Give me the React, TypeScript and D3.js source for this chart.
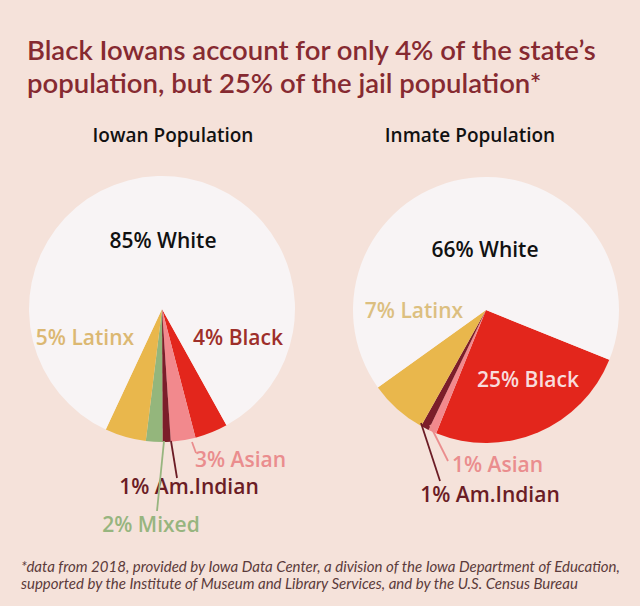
import React from "react";
import * as d3 from "d3";

// Iowa population shares vs. jail population shares (percent)
const groups = ["Black", "Asian", "Am.Indian", "Mixed", "Latinx", "White"];
const iowanShare = [4, 3, 1, 2, 5, 85];
const inmateShare = [25, 1, 1, 0, 7, 66];

const groupColor: Record<string, string> = {
  Black: "#e3261c",
  Asian: "#f2898d",
  "Am.Indian": "#7c1d2a",
  Mixed: "#94b67c",
  Latinx: "#e9b74c",
  White: "#f8f4f5",
};

const W = 640;
const H = 606;
const BG = "#f5e2da";
const TITLE_FONT = "Lato, sans-serif";
const FONT = "'Open Sans', Lato, sans-serif";

type Label = {
  text: string;
  x: number;
  y: number;
  color: string;
  size: number;
  anchor?: string;
  leader?: [number, number, number, number];
};

function Pie({
  cx,
  cy,
  r,
  start,
  values,
}: {
  cx: number;
  cy: number;
  r: number;
  start: number;
  values: number[];
}) {
  const data = groups.map((g, i) => ({ g, v: values[i] }));
  const pie = d3
    .pie<{ g: string; v: number }>()
    .value((d) => d.v)
    .sort(null)
    .startAngle(start)
    .endAngle(start + 2 * Math.PI);
  const arc = d3.arc<d3.PieArcDatum<{ g: string; v: number }>>().innerRadius(0).outerRadius(r);
  return (
    <g transform={`translate(${cx},${cy})`}>
      {pie(data)
        .filter((d) => d.data.v > 0)
        .map((d) => (
          <path key={d.data.g} d={arc(d) || ""} fill={groupColor[d.data.g]} />
        ))}
    </g>
  );
}

function Labels({ items }: { items: Label[] }) {
  return (
    <g>
      {items.map((l, i) => (
        <g key={i}>
          {l.leader && (
            <line
              x1={l.leader[0]}
              y1={l.leader[1]}
              x2={l.leader[2]}
              y2={l.leader[3]}
              stroke={l.color}
              strokeWidth={1.8}
            />
          )}
          <text
            x={l.x}
            y={l.y}
            fill={l.color}
            fontSize={l.size}
            fontWeight={600}
            textAnchor={l.anchor ?? "middle"}
            fontFamily={FONT}
          >
            {l.text}
          </text>
        </g>
      ))}
    </g>
  );
}

const deg = Math.PI / 180;

const leftLabels: Label[] = [
  { text: `${iowanShare[5]}% White`, x: 163, y: 248, color: "#111", size: 21 },
  { text: `${iowanShare[4]}% Latinx`, x: 85, y: 345, color: "#dcb872", size: 21 },
  { text: `${iowanShare[0]}% Black`, x: 238, y: 345, color: "#9e2f2a", size: 21 },
  { text: `${iowanShare[1]}% Asian`, x: 195, y: 467, color: "#ea8d8e", size: 21, anchor: "start", leader: [192, 442, 196, 453] },
  { text: `${iowanShare[2]}% Am.Indian`, x: 189, y: 494, color: "#6b1c25", size: 21, leader: [171, 441, 177, 478] },
  { text: `${iowanShare[3]}% Mixed`, x: 151, y: 532, color: "#97b57f", size: 21, leader: [164, 441, 157, 511] },
];

const rightLabels: Label[] = [
  { text: `${inmateShare[5]}% White`, x: 485, y: 257, color: "#111", size: 21 },
  { text: `${inmateShare[4]}% Latinx`, x: 414, y: 318, color: "#dcbf80", size: 21 },
  { text: `${inmateShare[0]}% Black`, x: 528, y: 387, color: "#f8dcdc", size: 21 },
  { text: `${inmateShare[1]}% Asian`, x: 452, y: 472, color: "#ea8d8e", size: 21, anchor: "start", leader: [430, 425, 448, 461] },
  { text: `${inmateShare[2]}% Am.Indian`, x: 490, y: 502, color: "#6b1c25", size: 21, leader: [421, 423, 440, 481] },
];

export default function App() {
  return (
    <svg width={W} height={H} style={{ display: "block", position: "absolute", left: 0, top: 0 }}>
      <rect width={W} height={H} fill={BG} />
      <g fontFamily={TITLE_FONT} fill="#862a31" fontSize={27.5} fontWeight={600}>
        <text x={27} y={60}>Black Iowans account for only 4% of the state’s</text>
        <text x={27} y={93}>population, but 25% of the jail population*</text>
      </g>
      <g fontFamily={FONT} fill="#111" fontSize={19} textAnchor="middle" fontWeight={600}>
        <text x={173} y={142}>Iowan Population</text>
        <text x={470} y={142}>Inmate Population</text>
      </g>
      <Pie cx={162} cy={309} r={133} start={151 * deg} values={iowanShare} />
      <Pie cx={486} cy={310} r={133} start={112 * deg} values={inmateShare} />
      <Labels items={leftLabels} />
      <Labels items={rightLabels} />
      <g fontFamily={TITLE_FONT} fill="#5b3b3b" fontSize={15} fontStyle="italic">
        <text x={21} y={572}>
          *data from 2018, provided by Iowa Data Center, a division of the Iowa Department of Education,
        </text>
        <text x={21} y={589}>
          supported by the Institute of Museum and Library Services, and by the U.S. Census Bureau
        </text>
      </g>
    </svg>
  );
}
